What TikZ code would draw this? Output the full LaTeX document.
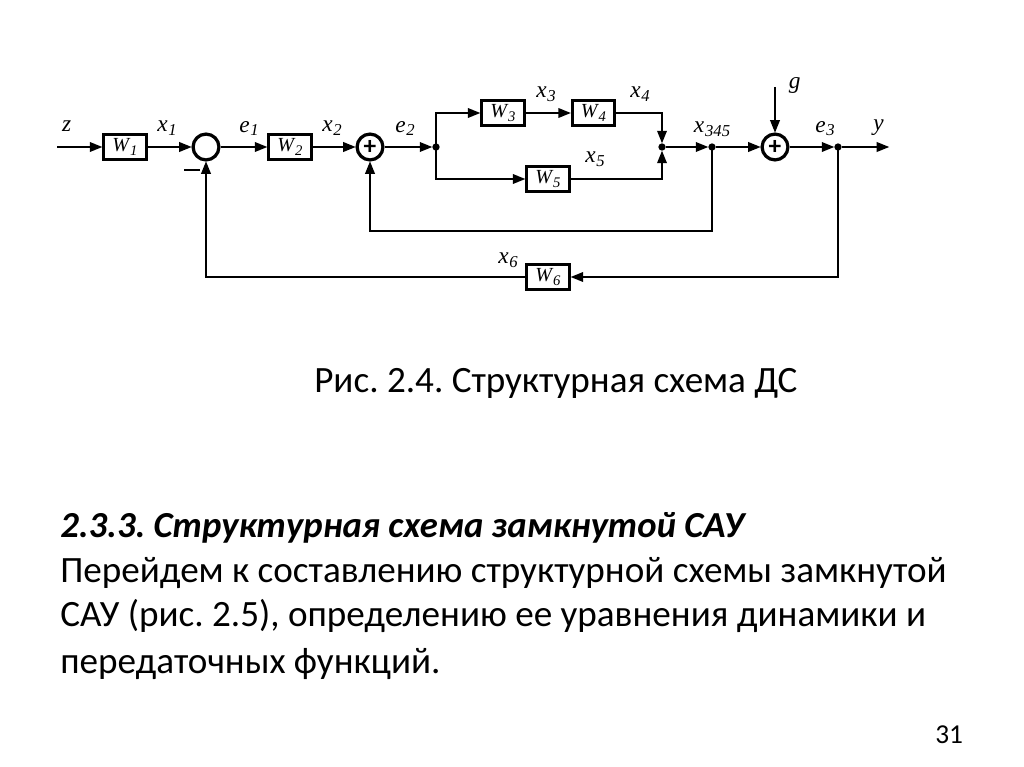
\documentclass[tikz,border=0pt]{standalone}
\usepackage{fontspec}
\setmainfont{Carlito}
\frenchspacing
\newfontfamily\serifit[Ligatures=TeX]{Liberation Serif}[ItalicFont={Liberation Serif Italic}]
\usetikzlibrary{arrows.meta,calc}
\newcommand{\sym}[2]{{\serifit\itshape\fontsize{17.5}{17.5}\selectfont #1\kern0.6pt\raisebox{-2.8pt}{\fontsize{12.5}{12.5}\selectfont #2}}}
\newcommand{\wsym}[1]{{\serifit\itshape\fontsize{15}{15}\selectfont W\kern0.8pt\raisebox{-2.6pt}{\fontsize{11}{11}\selectfont #1}}}
\tikzset{
 x=0.75pt,y=-0.75pt,
 conn/.style={line width=1.8pt,-{Triangle[length=9.5pt,width=7pt]},shorten >=-0.3pt},
 block/.style={draw,line width=2.3pt,minimum width=32pt,minimum height=18.7pt,inner sep=0pt},
 summer/.style={draw,circle,line width=2.4pt,minimum size=19.4pt,inner sep=0pt},
 dot/.style={circle,fill=black,minimum size=5.5pt,inner sep=0pt},
 lab/.style={inner sep=0pt,anchor=center},
 slide/.style={inner sep=0pt,anchor=base west,font=\fontsize{27.85}{27.85}\selectfont},
}
\begin{document}
\begin{tikzpicture}
\useasboundingbox (0,0) rectangle (1024,767);
\fill[white] (0,0) rectangle (1024,767);
% blocks
\node[block] (w1) at (125,147) {\wsym{1}};
\node[block] (w2) at (290,147) {\wsym{2}};
\node[block] (w3) at (503,113) {\wsym{3}};
\node[block] (w4) at (593.5,113) {\wsym{4}};
\node[block] (w5) at (548,179) {\wsym{5}};
\node[block] (w6) at (548,277) {\wsym{6}};
\node[summer] (c1) at (206,147) {};
\node[summer] (c2) at (370,147) {};
\node[summer] (c3) at (775,147) {};
\node[inner sep=0pt,font=\fontsize{19}{19}\selectfont\bfseries] (p2) at (370,147) {+};
\node[inner sep=0pt,font=\fontsize{19}{19}\selectfont\bfseries] (p3) at (775,147) {+};
\node[fill=black,minimum width=11.5pt,minimum height=2.2pt,inner sep=0pt] (minus) at (192,170) {};
\node[dot] (j1) at (436,147) {};
\node[dot] (j2) at (662,147) {};
\node[dot] (j3) at (712,147) {};
\node[dot] (j4) at (838,147) {};
\coordinate (in) at (57,147);
\coordinate (out) at (889,147);
\coordinate (gin) at (775,87);
\coordinate (f1) at (370,231);
\coordinate (f1r) at (712,231);
\coordinate (f2) at (206,277);
\coordinate (f2r) at (838,277);
\coordinate (u1) at (436,113);
\coordinate (d1) at (436,179);
\coordinate (u2) at (662,113);
\coordinate (d2) at (662,179);
% connectors
\draw[conn] (in) -- (w1);
\draw[conn] (w1) -- (c1);
\draw[conn] (c1) -- (w2);
\draw[conn] (w2) -- (c2);
\draw[conn] (c2) -- (j1);
\draw[conn] (j2) -- (j3);
\draw[conn] (j3) -- (c3);
\draw[conn] (c3) -- (j4);
\draw[conn] (j4) -- (out);
\draw[conn] (gin) -- (c3);
\draw[conn] (j1.center) -- (u1) -- (w3);
\draw[conn] (w3) -- (w4);
\draw[conn] (w4) -- (u2) -- (j2);
\draw[conn] (j1.center) -- (d1) -- (w5);
\draw[conn] (w5) -- (d2) -- (j2);
\draw[conn] (j3.center) -- (f1r) -- (f1) -- (c2);
\draw[conn] (j4.center) -- (f2r) -- (w6);
\draw[conn] (w6) -- (f2) -- (c1);
% labels
\node[lab] (lz) at (67,128.5) {\sym{z}{}};
\node[lab] (lx1) at (167,128.5) {\sym{x}{1}};
\node[lab] (le1) at (249,128.5) {\sym{e}{1}};
\node[lab] (lx2) at (332,128.5) {\sym{x}{2}};
\node[lab] (le2) at (405,128.5) {\sym{e}{2}};
\node[lab] (lx3) at (546,94.5) {\sym{x}{3}};
\node[lab] (lx4) at (640,94.5) {\sym{x}{4}};
\node[lab] (lx5) at (595,159.5) {\sym{x}{5}};
\node[lab] (lx345) at (712,129) {\sym{x}{345}};
\node[lab] (lg) at (795,85) {\sym{g}{}};
\node[lab] (le3) at (825,128.5) {\sym{e}{3}};
\node[lab] (ly) at (879,128) {\sym{y}{}};
\node[lab] (lx6) at (508,260) {\sym{x}{6}};
% text
\node[slide] (cap) at (314,392) {Рис. 2.4. Структурная схема ДС};
\node[slide,font=\fontsize{27.5}{27.5}\selectfont\bfseries\itshape] (t1) at (60,537) {2.3.3. Структурная схема замкнутой САУ};
\node[slide] (t2) at (60,582) {Перейдем к составлению структурной схемы замкнутой};
\node[slide] (t3) at (60,626) {САУ (рис. 2.5), определению ее уравнения динамики и};
\node[slide] (t4) at (60,673) {передаточных функций.};
\node[slide,font=\fontsize{20.5}{20.5}\selectfont] (pg) at (935,743) {31};
\end{tikzpicture}
\end{document}
